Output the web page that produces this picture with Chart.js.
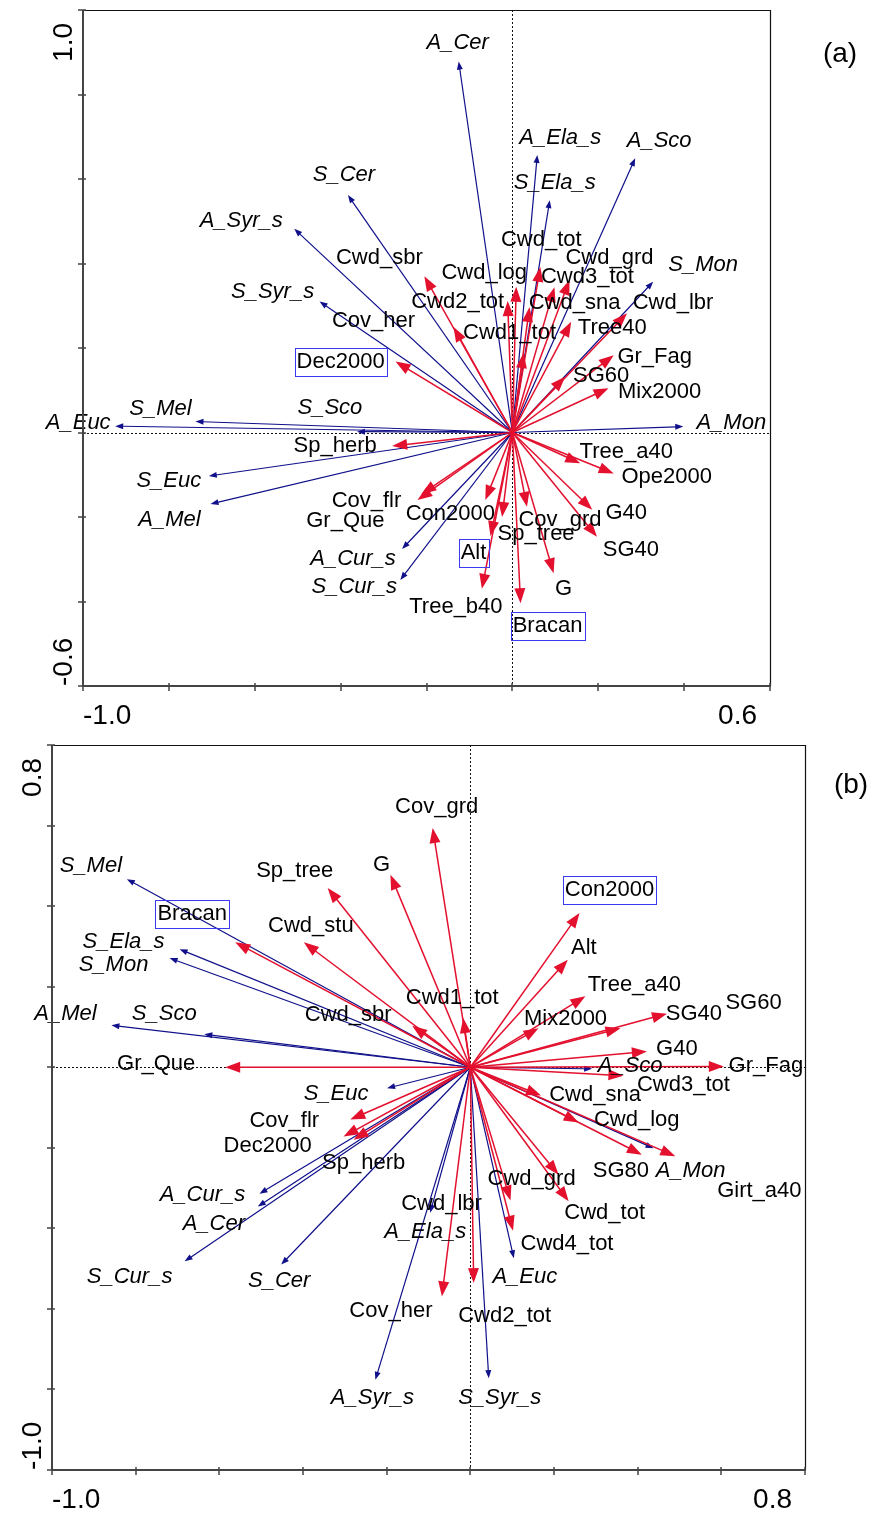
<!DOCTYPE html>
<html>
<head>
<meta charset="utf-8">
<title>Biplots (a) and (b)</title>
<script src="https://cdn.jsdelivr.net/npm/chart.js@4.4.1/dist/chart.umd.min.js"></script>
<style>
  html, body { margin: 0; padding: 0; background: #fff; }
  #wrap { position: relative; width: 871px; height: 1513px; }
  .panel { position: absolute; left: 0; width: 871px; }
  #panelA { top: 0; height: 740px; }
  #panelB { top: 740px; height: 773px; }
</style>
</head>
<body>
<div id="wrap">
  <div class="panel" id="panelA"><canvas id="chartA"></canvas></div>
  <div class="panel" id="panelB"><canvas id="chartB"></canvas></div>
</div>
<script>
// ---- panel (a): species scores ----
const speciesA = ["A_Cer", "S_Cer", "A_Syr_s", "S_Syr_s", "A_Euc", "S_Mel", "S_Sco", "S_Euc",
  "A_Mel", "A_Cur_s", "S_Cur_s", "A_Ela_s", "S_Ela_s", "A_Sco", "S_Mon", "A_Mon"];
const speciesAx = [-0.125, -0.383, -0.508, -0.449, -0.925, -0.738, -0.362, -0.707,
  -0.703, -0.257, -0.261, 0.058, 0.087, 0.286, 0.328, 0.398];
const speciesAy = [0.878, 0.562, 0.482, 0.310, 0.015, 0.026, 0.002, -0.103,
  -0.169, -0.276, -0.349, 0.657, 0.550, 0.649, 0.357, 0.014];

// ---- panel (a): environmental variables ----
const envA = ["Cwd_sbr", "Cov_her", "Cwd2_tot", "Cwd_log", "Cwd_tot", "Cwd3_tot", "Cwd_grd", "Cwd_sna",
  "Cwd1_tot", "Tree40", "Cwd_lbr", "Gr_Fag", "SG60", "Mix2000", "Dec2000", "Sp_herb",
  "Cov_flr", "Gr_Que", "Con2000", "Sp_tree", "Alt", "Tree_b40", "Cov_grd", "Bracan",
  "G", "G40", "SG40", "Tree_a40", "Ope2000"];
const envAx = [-0.205, -0.137, -0.011, 0.009, 0.065, 0.098, 0.133, 0.040,
  0.026, 0.137, 0.267, 0.236, 0.123, 0.224, -0.272, -0.280,
  -0.221, -0.212, -0.063, -0.024, -0.051, -0.071, 0.034, 0.019,
  0.096, 0.186, 0.197, 0.158, 0.236];
const envAy = [0.370, 0.250, 0.311, 0.345, 0.392, 0.344, 0.361, 0.297,
  0.188, 0.262, 0.282, 0.183, 0.132, 0.105, 0.168, -0.032,
  -0.160, -0.146, -0.160, -0.200, -0.245, -0.370, -0.176, -0.404,
  -0.333, -0.183, -0.247, -0.073, -0.097];
const nominalA = ["Dec2000", "Alt", "Bracan"];

const xTicksA = [-1.0, -0.8, -0.6, -0.4, -0.2, 0.0, 0.2, 0.4, 0.6];
const yTicksA = [-0.6, -0.4, -0.2, 0.0, 0.2, 0.4, 0.6, 0.8, 1.0];
const xEndLabelsA = ["-1.0", "0.6"];
const yEndLabelsA = ["-0.6", "1.0"];

// ---- panel (b): species scores ----
const speciesB = ["S_Mel", "S_Ela_s", "S_Mon", "A_Mel", "S_Sco", "S_Euc", "A_Cur_s", "A_Cer",
  "S_Cur_s", "S_Cer", "A_Ela_s", "A_Euc", "A_Syr_s", "S_Syr_s", "A_Sco", "A_Mon"];
const speciesBx = [-0.821, -0.695, -0.719, -0.858, -0.636, -0.199, -0.504, -0.508,
  -0.683, -0.452, -0.096, 0.104, -0.227, 0.044, 0.291, 0.438];
const speciesBy = [0.467, 0.293, 0.271, 0.104, 0.082, -0.052, -0.314, -0.346,
  -0.482, -0.490, -0.361, -0.474, -0.776, -0.772, -0.004, -0.201];

// ---- panel (b): environmental variables ----
const envB = ["Bracan", "Cwd_stu", "Sp_tree", "G", "Cov_grd", "Cwd1_tot", "Cwd_sbr", "Gr_Que",
  "Con2000", "Alt", "Tree_a40", "Mix2000", "SG40", "SG60", "G40", "Gr_Fag",
  "Cwd3_tot", "Cwd_sna", "Cwd_log", "SG80", "Girt_a40", "Cwd_grd", "Cwd_tot", "Cwd_lbr",
  "Cwd4_tot", "Cwd2_tot", "Cov_her", "Cov_flr", "Dec2000", "Sp_herb"];
const envBx = [-0.562, -0.398, -0.341, -0.191, -0.090, -0.017, -0.139, -0.586,
  0.261, 0.233, 0.275, 0.163, 0.470, 0.359, 0.422, 0.606,
  0.366, 0.169, 0.259, 0.410, 0.490, 0.211, 0.235, 0.096,
  0.102, 0.008, -0.068, -0.287, -0.303, -0.279];
const envBy = [0.310, 0.310, 0.445, 0.478, 0.594, 0.122, 0.103, 0.000,
  0.383, 0.267, 0.176, 0.097, 0.133, 0.097, 0.039, 0.002,
  -0.021, -0.070, -0.137, -0.217, -0.221, -0.267, -0.333, -0.331,
  -0.406, -0.536, -0.569, -0.130, -0.172, -0.180];
const nominalB = ["Bracan", "Con2000"];

const xTicksB = [-1.0, -0.8, -0.6, -0.4, -0.2, 0.0, 0.2, 0.4, 0.6, 0.8];
const yTicksB = [-1.0, -0.8, -0.6, -0.4, -0.2, 0.0, 0.2, 0.4, 0.6, 0.8];
const xEndLabelsB = ["-1.0", "0.8"];
const yEndLabelsB = ["-1.0", "0.8"];

// label placement next to the arrow tips, in pixels
const labelShiftA = {
  A_Cer: [-1, -19], S_Cer: [-4, -20], A_Syr_s: [-53, -8], S_Syr_s: [-47, -10],
  A_Euc: [-37, -3], S_Mel: [-35, -13], S_Sco: [-27, -24], S_Euc: [-40, 5],
  A_Mel: [-41, 16], A_Cur_s: [-49, 10], S_Cur_s: [-46, 7], A_Ela_s: [23, -17],
  S_Ela_s: [5, -17], A_Sco: [24, -17], S_Mon: [50, -17], A_Mon: [48, -4],
  Cwd_sbr: [-45, -18], Cov_her: [-80, -6], Cwd2_tot: [-50, 1], Cwd_log: [-32, -14],
  Cwd_tot: [1, -27], Cwd3_tot: [33, -10], Cwd_grd: [40, -22], Cwd_sna: [45, -4],
  Cwd1_tot: [-14, -20], Tree40: [41, 6], Cwd_lbr: [46, -10], Gr_Fag: [41, 2],
  SG60: [36, -1], Mix2000: [51, 4], Dec2000: [-55, 0], Sp_herb: [-57, 0],
  Cov_flr: [-51, 1], Gr_Que: [-76, 27], Con2000: [-35, 14], Sp_tree: [34, 17],
  Alt: [-17, 17], Tree_b40: [-26, 18], Cov_grd: [33, 13], Bracan: [27, 23],
  G: [10, 16], G40: [34, 3], SG40: [34, 13], Tree_a40: [46, -11], Ope2000: [53, 3]
};
const labelShiftB = {
  S_Mel: [-36, -13], S_Ela_s: [-56, -7], S_Mon: [-56, 7], A_Mel: [-46, -11],
  S_Sco: [-40, -20], S_Euc: [-51, 6], A_Cur_s: [-57, 1], A_Cer: [-44, 17],
  S_Cur_s: [-55, 16], S_Cer: [-2, 16], A_Ela_s: [-5, 19], A_Euc: [11, 19],
  A_Syr_s: [-3, 18], S_Syr_s: [11, 20], A_Sco: [38, -3], A_Mon: [37, 23],
  Bracan: [-43, -28], Cwd_stu: [7, -16], Sp_tree: [-33, -17], G: [-9, -10],
  Cov_grd: [4, -21], Cwd1_tot: [-11, -20], Cwd_sbr: [-64, -11], Gr_Que: [-69, -3],
  Con2000: [30, -23], Alt: [16, -12], Tree_a40: [49, -11], Mix2000: [27, -9],
  SG40: [27, 0], SG60: [133, -25], G40: [30, -3], Gr_Fag: [42, 0],
  Cwd3_tot: [60, 9], Cwd_sna: [54, 0], Cwd_log: [58, -2], SG80: [-21, 16],
  Girt_a40: [84, 35], Cwd_grd: [-27, 4], Cwd_tot: [36, 12], Cwd_lbr: [-69, 3],
  Cwd4_tot: [54, 13], Cwd2_tot: [31, 33], Cov_her: [-51, 15], Cov_flr: [-66, 1],
  Dec2000: [-76, 9], Sp_herb: [10, 23]
};

const BLUE = "#10108a";
const RED = "#e3102e";
const BOX = "#3a3af0";
const LABEL_FONT = '22px "Liberation Sans", Arial, sans-serif';
const TICK_FONT = '28px "Liberation Sans", Arial, sans-serif';

function toPoints(xs, ys) {
  return xs.map((x, i) => ({ x: x, y: ys[i] }));
}

function drawArrow(ctx, x0, y0, x1, y1, color, width, headLen, headHalf) {
  const ang = Math.atan2(y1 - y0, x1 - x0);
  const c = Math.cos(ang), s = Math.sin(ang);
  const bx = x1 - headLen * c, by = y1 - headLen * s;
  ctx.strokeStyle = color;
  ctx.lineWidth = width;
  ctx.beginPath();
  ctx.moveTo(x0, y0);
  ctx.lineTo(bx + c, by + s);
  ctx.stroke();
  ctx.fillStyle = color;
  ctx.beginPath();
  ctx.moveTo(x1, y1);
  ctx.lineTo(bx + headHalf * s, by - headHalf * c);
  ctx.lineTo(bx - headHalf * s, by + headHalf * c);
  ctx.closePath();
  ctx.fill();
}

const biplot = {
  id: "biplot",
  beforeDatasetsDraw(chart, args, opts) {
    const { ctx, chartArea: a, scales: { x, y } } = chart;
    const ox = x.getPixelForValue(0), oy = y.getPixelForValue(0);
    ctx.save();
    ctx.strokeStyle = "#111";
    ctx.lineWidth = 1;
    ctx.setLineDash([2, 2]);
    ctx.beginPath();
    ctx.moveTo(Math.round(ox) + 0.5, a.top);
    ctx.lineTo(Math.round(ox) + 0.5, a.bottom);
    ctx.moveTo(a.left, Math.round(oy) + 0.5);
    ctx.lineTo(a.right, Math.round(oy) + 0.5);
    ctx.stroke();
    ctx.restore();
  },
  afterDatasetsDraw(chart, args, opts) {
    const { ctx, scales: { x, y } } = chart;
    const ox = x.getPixelForValue(0), oy = y.getPixelForValue(0);
    ctx.save();
    chart.data.datasets.forEach((ds, di) => {
      const species = ds.kind === "species";
      chart.getDatasetMeta(di).data.forEach((pt) => {
        if (species) drawArrow(ctx, ox, oy, pt.x, pt.y, BLUE, 1.2, 8, 3);
        else drawArrow(ctx, ox, oy, pt.x, pt.y, RED, 1.5, 15, 5.5);
      });
    });
    ctx.textAlign = "center";
    ctx.textBaseline = "middle";
    chart.data.datasets.forEach((ds, di) => {
      ctx.font = (ds.kind === "species" ? "italic " : "") + LABEL_FONT;
      chart.getDatasetMeta(di).data.forEach((pt, i) => {
        const name = ds.names[i];
        const shift = opts.shifts[name] || [0, 0];
        const lx = pt.x + shift[0], ly = pt.y + shift[1];
        ctx.fillStyle = "#000";
        ctx.fillText(name, lx, ly);
        if (ds.kind === "env" && opts.nominal.includes(name)) {
          const w = ctx.measureText(name).width + 4;
          ctx.strokeStyle = BOX;
          ctx.lineWidth = 1;
          ctx.strokeRect(Math.round(lx - w / 2) + 0.5, Math.round(ly - 14) + 0.5, Math.round(w), 28);
        }
      });
    });
    ctx.restore();
  },
  afterDraw(chart, args, opts) {
    const { ctx, chartArea: a, scales: { x, y } } = chart;
    ctx.save();
    // frame
    ctx.strokeStyle = "#111";
    ctx.lineWidth = 1.2;
    ctx.beginPath();
    ctx.moveTo(a.left, a.top + 0.5);
    ctx.lineTo(a.right + 0.5, a.top + 0.5);
    ctx.lineTo(a.right + 0.5, a.bottom);
    ctx.stroke();
    ctx.strokeStyle = "#444";
    ctx.lineWidth = 2;
    ctx.beginPath();
    ctx.moveTo(a.left, a.top);
    ctx.lineTo(a.left, a.bottom);
    ctx.lineTo(a.right + 1, a.bottom);
    ctx.stroke();
    // tick marks
    ctx.lineWidth = 1.5;
    ctx.beginPath();
    opts.xTicks.forEach((v) => {
      const px = Math.round(x.getPixelForValue(v));
      ctx.moveTo(px, a.bottom - 3);
      ctx.lineTo(px, a.bottom + 5);
    });
    opts.yTicks.forEach((v) => {
      const py = Math.round(y.getPixelForValue(v));
      ctx.moveTo(a.left - 5, py);
      ctx.lineTo(a.left + 3, py);
    });
    ctx.stroke();
    // end labels of the axes
    ctx.fillStyle = "#000";
    ctx.font = TICK_FONT;
    ctx.textBaseline = "middle";
    ctx.textAlign = "left";
    ctx.fillText(opts.xLabels[0], x.getPixelForValue(opts.xTicks[0]), a.bottom + 30);
    ctx.textAlign = "right";
    ctx.fillText(opts.xLabels[1], x.getPixelForValue(opts.xTicks[opts.xTicks.length - 1]) - 13, a.bottom + 30);
    ctx.save();
    ctx.translate(a.left - 19, 0);
    ctx.rotate(-Math.PI / 2);
    ctx.textAlign = "left";
    ctx.fillText(opts.yLabels[0], -y.getPixelForValue(opts.yTicks[0]), 0);
    ctx.textAlign = "right";
    ctx.fillText(opts.yLabels[1], -(y.getPixelForValue(opts.yTicks[opts.yTicks.length - 1]) + 13), 0);
    ctx.restore();
    // panel letter
    ctx.textAlign = "center";
    ctx.fillText(opts.letter, opts.letterPos[0], opts.letterPos[1]);
    ctx.restore();
  }
};

function makeBiplot(id, cfg) {
  return new Chart(document.getElementById(id), {
    type: "scatter",
    data: {
      datasets: [
        { kind: "species", names: cfg.species, data: toPoints(cfg.sx, cfg.sy), pointRadius: 0 },
        { kind: "env", names: cfg.env, data: toPoints(cfg.ex, cfg.ey), pointRadius: 0 }
      ]
    },
    options: {
      responsive: true,
      maintainAspectRatio: false,
      animation: false,
      events: [],
      layout: { padding: cfg.padding },
      plugins: {
        legend: { display: false },
        tooltip: { enabled: false },
        biplot: {
          shifts: cfg.shifts,
          nominal: cfg.nominal,
          xTicks: cfg.xTicks,
          yTicks: cfg.yTicks,
          xLabels: cfg.xLabels,
          yLabels: cfg.yLabels,
          letter: cfg.letter,
          letterPos: cfg.letterPos
        }
      },
      scales: {
        x: { type: "linear", display: false, min: cfg.xTicks[0], max: cfg.xTicks[cfg.xTicks.length - 1] },
        y: { type: "linear", display: false, min: cfg.yTicks[0], max: cfg.yTicks[cfg.yTicks.length - 1] }
      }
    },
    plugins: [biplot]
  });
}

makeBiplot("chartA", {
  species: speciesA, sx: speciesAx, sy: speciesAy,
  env: envA, ex: envAx, ey: envAy,
  nominal: nominalA, shifts: labelShiftA,
  xTicks: xTicksA, yTicks: yTicksA, xLabels: xEndLabelsA, yLabels: yEndLabelsA,
  letter: "(a)", letterPos: [840, 54],
  padding: { left: 83, top: 10, right: 101, bottom: 54 }
});

makeBiplot("chartB", {
  species: speciesB, sx: speciesBx, sy: speciesBy,
  env: envB, ex: envBx, ey: envBy,
  nominal: nominalB, shifts: labelShiftB,
  xTicks: xTicksB, yTicks: yTicksB, xLabels: xEndLabelsB, yLabels: yEndLabelsB,
  letter: "(b)", letterPos: [851, 45],
  padding: { left: 52, top: 5, right: 66, bottom: 43 }
});
</script>
</body>
</html>
